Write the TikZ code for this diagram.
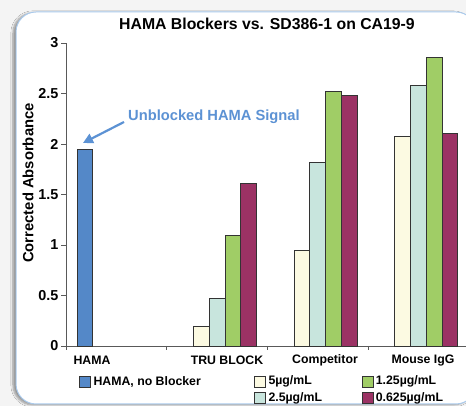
\documentclass[tikz,border=0pt]{standalone}
\usepackage{fontspec}
\setmainfont{Liberation Sans}
\usetikzlibrary{arrows.meta, positioning, shadows.blur}
\definecolor{panelblue}{RGB}{170,202,236}
\definecolor{hamablue}{RGB}{84,136,200}
\definecolor{signalblue}{RGB}{92,146,212}
\definecolor{ser1}{RGB}{252,250,226}
\definecolor{ser2}{RGB}{200,229,221}
\definecolor{ser3}{RGB}{160,205,102}
\definecolor{ser4}{RGB}{155,50,100}
\tikzset{
    panel/.style={fill=white, draw=panelblue, line width=1pt, rounded corners=20pt,
        blur shadow={shadow xshift=-3pt, shadow yshift=-1pt, shadow blur steps=6}}, % white card
    axisline/.style={draw=black!65, line width=0.8pt},
    bar/.style={draw=black!80, line width=0.7pt}, % outline of every bar
    ticklabel/.style={font=\bfseries\fontsize{14.4}{15}\selectfont, anchor=east, inner sep=0pt},
    catlabel/.style={font=\bfseries\fontsize{12.3}{14}\selectfont, inner sep=0pt},
    legtext/.style={font=\bfseries\fontsize{12.3}{14}\selectfont, anchor=west, inner sep=0pt},
    swatch/.style={draw=black!80, line width=0.7pt, minimum size=11pt, inner sep=0pt},
    signalarrow/.style={draw=signalblue, line width=2.2pt, -{Triangle[width=10pt,length=10pt]}},
}

\begin{document}
\begin{tikzpicture}[x=1pt, y=1pt]
    \useasboundingbox (0,0) rectangle (466,406);
    \fill[gray!9] (0,0) rectangle (466,406);
    \draw[panel] (16,2) rectangle (476,394);

    % Title and axis title
    \node[font=\bfseries\fontsize{15.8}{18}\selectfont, inner sep=0pt] (title) at (267,382)
        {HAMA Blockers vs. SD386-1 on CA19-9};
    \node[font=\bfseries\fontsize{14.8}{16}\selectfont, inner sep=0pt, rotate=90] (ytitle) at (28,223)
        {Corrected Absorbance};

    % Chart area, one unit of y = absorbance 1
    \begin{scope}[shift={(66,60)}, x=1pt, y=101pt]
        \draw[axisline] (0,0) -- (0,3);
        \draw[axisline] (0,0) -- (402,0);
        \foreach \v [count=\i] in {0,0.5,1,1.5,2,2.5,3} {
            \draw[axisline] (-5pt,\v) -- (0,\v);
            \node[ticklabel] (ytick\i) at (-7.5pt,\v) {\v};
        }
        \foreach \c in {0,...,3}
            \draw[axisline] (\c*100.67,0) -- ++(0,-4pt);

        % HAMA, no Blocker
        \draw[bar, fill=hamablue] (11,0) rectangle (26.73,1.95);
        \coordinate (hamatip) at (17,2.01);

        % blockers at four doses
        \foreach \c/\a/\b/\d/\e in {1/0.19/0.47/1.10/1.61, 2/0.95/1.82/2.52/2.48, 3/2.08/2.58/2.86/2.11} {
            \foreach \h [count=\s] in {\a,\b,\d,\e} {
                \pgfmathsetmacro{\l}{\c*100.67+11+\s*15.73}
                \draw[bar, fill=ser\s] (\l,0) rectangle ++(15.73,\h);
            }
        }

        % category labels
        \node[catlabel] (cathama) at (26,-14.7pt) {HAMA};
        \node[catlabel] (cattru) at (161,-14.7pt) {TRU BLOCK};
        \node[catlabel] (catcomp) at (259,-14.7pt) {Competitor};
        \node[catlabel] (catmouse) at (357,-14.7pt) {Mouse IgG};
    \end{scope}

    % Callout
    \node[font=\bfseries\fontsize{14.7}{16}\selectfont, text=signalblue, inner sep=0pt, anchor=west]
        (signal) at (128,289) {Unblocked HAMA Signal};
    \draw[signalarrow] ([xshift=-4pt,yshift=-5pt]signal.west) -- (hamatip);

    % Legend
    \node[swatch, fill=hamablue] (keyhama) at (85,24.3) {};
    \node[legtext, right=2.5pt of keyhama] (keyhamatext) {HAMA, no Blocker};
    \node[swatch, fill=ser1] (key5) at (260,24.3) {};
    \node[legtext, right=2.5pt of key5] (key5text) {5µg/mL};
    \node[swatch, fill=ser2] (key25) at (260,7.7) {};
    \node[legtext, right=2.5pt of key25] (key25text) {2.5µg/mL};
    \node[swatch, fill=ser3] (key125) at (368.3,24.3) {};
    \node[legtext, right=1.5pt of key125] (key125text) {1.25µg/mL};
    \node[swatch, fill=ser4] (key0625) at (368.3,7.7) {};
    \node[legtext, right=1.5pt of key0625] (key0625text) {0.625µg/mL};
\end{tikzpicture}
\end{document}
